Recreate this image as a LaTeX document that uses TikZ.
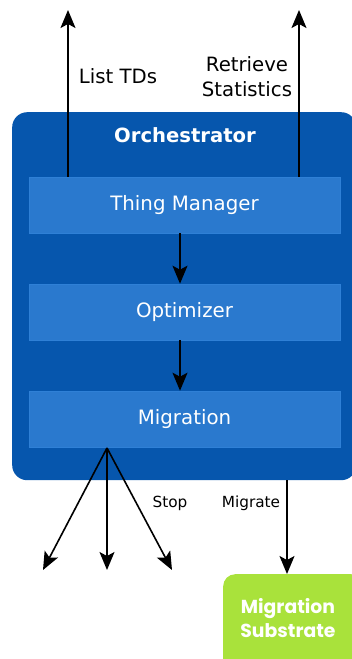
\documentclass[tikz,border=0pt]{standalone}
\usepackage{fontspec}
\setmainfont{DejaVu Sans}
\newfontfamily\headfont{Poppins}
\usetikzlibrary{arrows.meta}
\definecolor{orchblue}{HTML}{0656AD}
\definecolor{partblue}{HTML}{2A79CE}
\definecolor{partedge}{HTML}{2F80D6}
\definecolor{subgreen}{HTML}{A9E23B}
\begin{document}
\begin{tikzpicture}[x=1pt,y=-1pt,
  part/.style={fill=partblue,draw=partedge,line width=0.6pt,minimum width=311pt,minimum height=56pt,inner sep=0pt,text=white,font=\fontsize{19.8}{22}\selectfont},
  flow/.style={line width=1.6pt,-{Stealth[length=18pt,width=15pt,inset=4pt]}},
  lbl/.style={font=\fontsize{19.7}{25}\selectfont,align=center,inner sep=0pt},
  small/.style={font=\fontsize{15.3}{18}\selectfont,inner sep=0pt}]
\useasboundingbox (0,0) rectangle (351,659);
% orchestrator container
\node[fill=orchblue,rounded corners=15pt,minimum width=344pt,minimum height=368pt,inner sep=0pt,anchor=north west] (orch) at (12,112) {};
\node[text=white,font=\bfseries\fontsize{19.6}{21}\selectfont] (orchlabel) at (185,135) {Orchestrator};
% components
\node[part] (tm) at (184.5,205) {Thing Manager};
\node[part] (opt) at (184.5,312) {Optimizer};
\node[part] (mig) at (184.5,419) {Migration};
% migration substrate
\node[fill=subgreen,rounded corners=12pt,minimum width=140pt,minimum height=100pt,inner sep=0pt,anchor=north west] (sub) at (223,574) {};
\node[text=white,align=center,font=\headfont\bfseries\fontsize{18.8}{23.5}\selectfont] (sublabel) at (288,618) {Migration\\Substrate};
% outgoing requests
\coordinate (up1) at (68,10);
\coordinate (up2) at (299,10);
\draw[flow] (tm.north -| up1) -- (up1);
\draw[flow] (tm.north -| up2) -- (up2);
\node[lbl] (l1) at (118,76) {List TDs};
\node[lbl] (l2) at (247,77) {Retrieve\\Statistics};
% internal flow
\draw[flow] (tm.south -| 180,0) -- (opt.north -| 180,0);
\draw[flow] (opt.south -| 180,0) -- (mig.north -| 180,0);
% stop commands
\coordinate (src) at (107,448);
\coordinate (s1) at (43,570);
\coordinate (s2) at (107,570);
\coordinate (s3) at (172,570);
\draw[flow] (src) -- (s1);
\draw[flow] (src) -- (s2);
\draw[flow] (src) -- (s3);
\node[small] (stop) at (170,503) {Stop};
% migrate command
\draw[flow] (orch.south -| 287,0) -- (sub.north -| 287,0);
\node[small] (migr) at (251,503) {Migrate};
\end{tikzpicture}
\end{document}
